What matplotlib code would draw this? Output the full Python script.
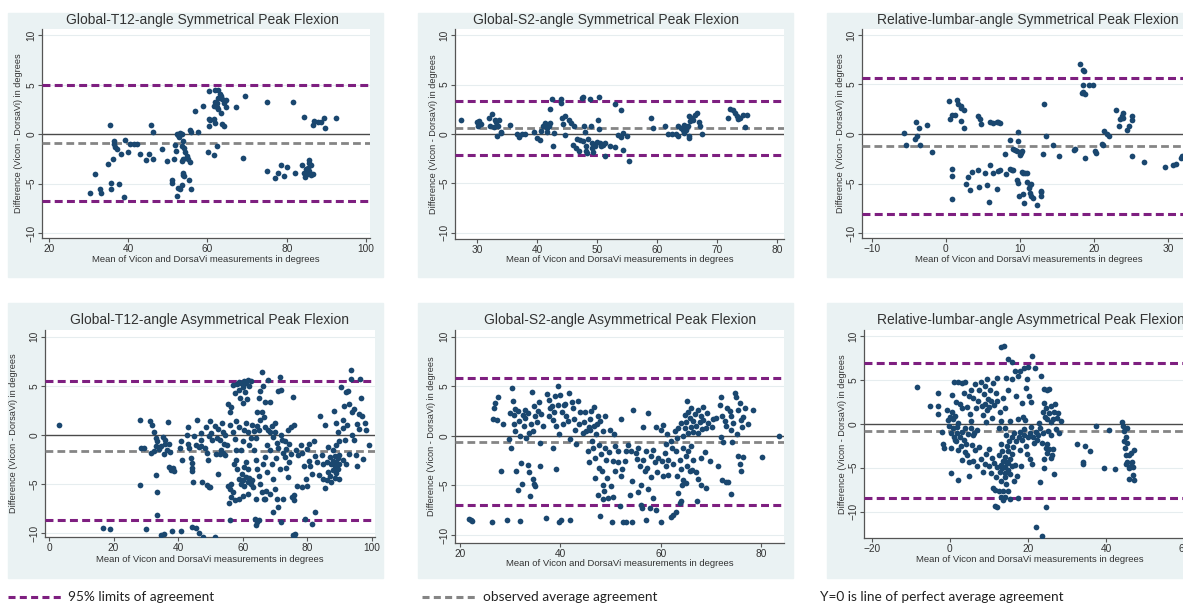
import numpy as np
import matplotlib
matplotlib.use("Agg")
import matplotlib.pyplot as plt
from matplotlib.patches import Rectangle
from matplotlib.lines import Line2D

plt.rcParams['font.family'] = ['Liberation Sans', 'DejaVu Sans']

W, H = 1183, 603

titles = ["Global-T12-angle Symmetrical Peak Flexion",
          "Global-S2-angle Symmetrical Peak Flexion",
          "Relative-lumbar-angle Symmetrical Peak Flexion",
          "Global-T12-angle Asymmetrical Peak Flexion",
          "Global-S2-angle Asymmetrical Peak Flexion",
          "Relative-lumbar-angle Asymmetrical Peak Flexion"]

# (mean, difference) pairs
t12_sym = [(30.3,-5.95),(31.7,-4.0),(33.0,-5.55),(33.1,-5.9),(34.9,-3.0),(35.5,0.9),(35.8,-4.9),(35.8,-5.5),
           (36.2,-2.5),(36.4,-0.65),(36.4,-1.0),(36.8,-1.3),(37.2,-1.5),(37.6,-5.0),(38.3,-2.0),(38.9,-6.35),
           (39.3,-0.55),(39.9,-1.85),(40.6,-1.0),(41.4,-1.0),(42.2,-1.0),(43.1,-2.0),(44.5,-2.6),(45.4,-2.0),
           (45.9,0.95),(46.3,0.25),(46.3,-2.5),(48.5,-1.5),(49.8,-2.7),(51.1,-4.6),(51.1,-4.95),(51.5,-2.5),
           (51.9,-1.05),(52.1,-1.7),(52.3,0.0),(52.7,-0.1),(53.1,0.1),(53.5,0.05),(52.8,-0.25),(52.3,-6.3),
           (52.7,-5.45),(53.5,-5.1),(53.1,-5.5),(53.5,-1.2),(53.9,-0.7),(54.2,-1.4),(53.5,-2.75),(53.9,-2.5),
           (53.8,-4.1),(53.9,-3.9),(54.2,-4.2),(54.4,-1.85),(54.8,-2.25),(55.0,-2.5),(55.3,-4.6),(55.5,-2.85),
           (55.7,0.45),(55.9,0.2),(55.9,-5.55),(56.9,2.3),(57.6,0.2),(58.8,2.9),(60.1,-1.8),(60.3,0.8),
           (60.5,1.5),(60.7,1.4),(60.4,4.4),(61.6,-2.15),(61.6,2.9),(61.8,3.3),(61.6,1.55),(62.0,1.1),
           (61.8,4.45),(62.8,4.45),(62.3,3.2),(62.4,2.8),(62.6,2.5),(62.6,3.7),(62.3,-1.15),(63.1,4.1),
           (63.5,3.9),(63.1,3.8),(63.8,3.6),(63.5,2.15),(63.8,1.05),(64.1,0.85),(64.1,3.2),(64.6,2.7),
           (64.8,3.5),(67.2,2.8),(68.9,-2.4),(69.4,3.9),(75.0,3.25),(75.0,-3.75),(77.1,-4.4),(77.9,-3.95),
           (78.5,-3.1),(79.2,-4.2),(80.0,-3.3),(81.7,3.25),(82.1,-3.9),(83.9,-3.15),(84.3,1.75),(84.3,-3.9),
           (84.6,-4.3),(84.9,-3.5),(85.0,-4.0),(85.5,-3.7),(85.5,-2.6),(85.7,-2.9),(86.0,-4.0),(86.2,-3.1),
           (86.2,-4.1),(86.6,-4.0),(85.4,-3.4),(86.6,0.9),(87.0,1.35),(87.9,1.2),(88.7,1.2),(89.3,1.6),
           (89.6,0.6),(92.4,1.65)]

s2_sym = [(27.3,1.45),(29.9,1.2),(30.2,0.85),(30.7,1.05),(30.3,1.3),(32.0,1.6),(32.5,2.0),(32.9,1.45),
          (33.2,1.2),(32.1,0.8),(32.8,0.7),(33.5,0.85),(33.7,1.45),(34.0,0.25),(33.3,-0.2),(33.9,0.1),
          (35.4,0.95),(36.6,-0.05),(36.9,-0.3),(37.4,-0.05),(38.0,0.0),(39.4,0.2),(39.9,-0.4),(40.4,-0.6),
          (40.7,0.35),(41.0,0.8),(41.3,1.1),(41.7,0.6),(42.0,0.85),(41.6,0.25),(42.2,1.1),(42.1,2.55),
          (42.4,3.5),(42.7,-1.25),(42.8,0.15),(43.9,3.55),(44.0,3.15),(44.2,1.6),(44.3,1.05),(44.6,1.85),
          (44.7,-0.15),(45.3,1.45),(45.6,1.1),(45.9,-1.1),(46.2,0.8),(46.4,-1.4),(46.7,-0.55),(46.9,-1.75),
          (47.1,-0.6),(47.4,3.65),(47.6,3.8),(47.8,0.8),(47.7,-0.75),(47.9,0.25),(48.1,-1.25),(48.2,-1.75),
          (48.3,-1.9),(48.5,-0.55),(48.8,3.5),(48.9,0.8),(49.1,-0.9),(49.2,-1.4),(49.3,-1.85),(49.6,-1.25),
          (49.9,-0.85),(50.2,1.45),(50.3,0.5),(50.3,3.8),(50.4,-0.9),(50.7,-1.25),(51.0,-1.1),(51.3,-0.9),
          (51.3,-2.2),(52.1,-1.25),(52.9,-1.3),(53.0,3.0),(54.0,2.45),(53.5,-0.15),(53.9,-0.3),(54.3,0.1),
          (54.2,-1.6),(54.9,-0.25),(55.2,-2.7),(58.9,1.6),(59.2,0.6),(61.3,0.8),(61.8,0.0),(62.4,-0.05),
          (63.1,-0.05),(63.5,-0.25),(63.5,0.85),(63.9,0.6),(64.2,0.45),(64.5,0.95),(64.4,0.1),(64.8,0.45),
          (65.1,0.8),(65.2,-0.25),(65.4,1.3),(65.2,-0.4),(65.3,1.85),(65.7,1.6),(66.0,1.45),(66.3,1.95),
          (66.6,2.1),(66.9,1.2),(67.1,0.85),(67.4,-0.05),(71.7,1.6),(72.1,2.55),(72.6,2.4),(72.9,2.1),
          (73.2,1.85),(73.5,1.5),(73.8,1.6),(74.3,1.95),(74.9,1.95),(74.6,0.7)]

lumbar_sym = [(-5.6,0.1),(-5.4,-1.15),(-4.0,1.2),(-4.2,-0.5),(-3.85,-0.25),(-3.6,0.6),(-3.5,-1.1),(-2.6,0.95),
              (-1.9,-1.85),(0.4,3.3),(0.55,1.5),(0.9,1.9),(1.2,1.95),(0.8,-6.55),(0.9,-3.55),(0.9,-4.2),
              (1.5,3.45),(1.6,3.05),(2.0,2.85),(2.1,2.6),(2.4,2.45),(2.0,1.3),(2.4,0.6),(2.7,-5.05),
              (3.0,-4.35),(3.3,-5.7),(3.5,-3.85),(4.4,1.8),(4.6,1.5),(4.7,1.05),(4.4,-3.65),(4.5,-5.35),
              (5.3,-3.95),(5.5,-5.1),(5.8,-6.9),(6.0,1.25),(6.3,1.1),(6.9,1.2),(7.1,1.2),(7.3,1.1),
              (6.0,-3.15),(6.3,-3.95),(6.9,-5.55),(7.1,-3.75),(7.3,-3.6),(8.1,-4.05),(8.6,-3.5),(8.9,-3.6),
              (9.1,-3.6),(8.0,-2.0),(8.65,-0.65),(9.0,-1.5),(9.3,-1.65),(9.55,-1.75),(9.8,-0.75),(9.8,0.2),
              (9.55,-4.6),(9.8,-4.9),(9.9,-6.3),(10.0,-2.1),(10.2,-1.9),(10.3,-1.75),(10.3,-3.85),(10.4,-3.95),
              (10.7,-3.9),(10.9,-3.95),(10.4,-6.05),(10.6,-7.0),(11.0,-4.8),(11.2,-5.5),(11.3,-5.1),(11.4,-6.0),
              (11.5,-5.0),(11.5,-6.3),(11.7,-6.5),(12.25,-7.15),(12.8,-5.8),(12.8,-6.3),(12.9,-5.9),(13.2,3.05),
              (13.15,-2.0),(13.5,-0.25),(14.5,-1.15),(15.3,-2.25),(17.3,-1.6),(17.4,-1.5),(18.1,7.05),(18.5,6.5),
              (18.7,6.35),(18.3,4.15),(18.5,4.2),(18.45,4.9),(18.8,4.05),(18.8,-2.4),(19.3,4.9),(19.8,4.9),
              (20.1,-1.7),(20.3,-1.9),(21.0,-1.0),(21.15,-1.1),(21.3,0.35),(21.7,0.05),(22.0,-0.25),(23.0,2.45),
              (23.3,0.85),(23.5,1.5),(23.7,1.8),(23.9,1.6),(23.9,2.1),(24.4,0.45),(24.7,0.85),(25.1,1.85),
              (25.1,1.4),(25.1,-2.25),(26.7,-2.85),(29.6,-3.35),(30.7,-3.1),(31.0,-3.0),(31.7,-2.4),(31.9,-2.25)]

t12_asym = [(3.0,1.05),(16.8,-9.5),(18.9,-9.6),(28.2,1.5),(28.2,-5.1),(28.5,-1.3),(29.5,-1.3),(29.9,-9.6),
            (31.2,1.4),(32.0,1.0),(32.5,0.3),(33.0,-0.3),(33.5,-0.6),(33.2,-1.1),(31.6,-1.8),(32.5,-1.6),
            (33.3,-4.1),(33.6,-5.8),(33.5,-8.1),(34.2,-1.4),(34.8,-1.1),(35.2,-0.2),(35.5,-1.9),(34.8,-10.2),
            (35.5,-10.1),(35.8,-0.9),(36.8,1.3),(37.2,-0.9),(37.5,-1.7),(37.3,-3.3),(37.8,-3.6),(38.3,-3.4),
            (38.6,-3.7),(38.2,-9.8),(36.5,-1.5),(36.0,-0.5),(40.5,-1.3),(41.0,-0.6),(41.2,-2.5),(41.0,-9.8),
            (42.8,0.0),(43.0,0.8),(43.2,-0.9),(43.5,-1.3),(44.0,-2.3),(44.2,-2.9),(44.2,-3.4),(44.3,-3.7),
            (44.7,-4.8),(44.2,-9.4),(45.5,-9.5),(46.5,-10.0),(47.6,-10.4),(45.0,-0.1),(45.5,-1.0),(46.0,1.5),
            (46.5,-1.2),(47.0,-0.5),(47.0,0.2),(47.2,-1.1),(47.5,-4.8),(48.2,-1.3),(48.5,0.8),(48.8,-1.8),
            (49.2,-2.5),(49.0,-5.1),(49.5,-5.3),(50.0,-5.3),(49.8,1.4),(50.3,0.2),(50.5,-0.5),(49.5,-0.1),
            (51.5,-10.4),(51.3,0.9),(51.8,-1.9),(52.0,-0.3),(52.5,-4.0),(52.5,0.6),(53.0,-0.5),(53.3,-1.5),
            (53.5,1.2),(53.8,-1.8),(54.0,0.3),(54.2,-0.9),(54.5,-2.0),(55.0,-1.0),(53.0,-1.9),(54.5,0.0),
            (55.5,-5.2),(55.8,-6.9),(56.0,-5.5),(56.3,-5.0),(56.5,-6.3),(57.0,-5.8),(56.1,-8.7),(57.5,-6.6),
            (55.5,3.2),(56.0,2.3),(56.5,2.8),(56.2,1.0),(57.0,0.3),(57.5,-0.4),(57.8,-1.5),(58.0,-2.5),
            (57.2,-3.0),(58.3,-3.5),(58.0,1.4),(57.5,4.3),(58.2,5.2),(58.8,5.4),(57.0,5.1),(59.0,4.6),
            (59.5,5.3),(60.0,4.9),(60.5,5.5),(61.0,5.3),(61.5,5.6),(62.0,5.0),(62.5,5.5),(59.3,3.8),
            (60.2,3.3),(60.8,4.4),(61.3,3.7),(59.0,-4.5),(59.5,-5.0),(60.0,-4.6),(60.5,-5.2),(61.0,-4.3),
            (61.5,-4.8),(62.0,-4.4),(62.5,-5.0),(63.0,-4.6),(63.3,-5.3),(59.7,-4.0),(60.3,-3.3),(61.0,-2.8),
            (61.8,-3.5),(59.5,-1.5),(60.0,-0.6),(60.5,0.5),(61.0,1.2),(61.5,0.3),(62.0,-1.0),(62.5,-0.3),
            (59.0,0.8),(58.8,-6.5),(60.0,-6.2),(61.5,-6.0),(63.0,1.0),(63.5,0.4),(64.0,-0.3),(64.5,0.9),
            (65.0,0.5),(65.5,1.5),(66.0,2.3),(66.5,1.8),(64.5,2.3),(65.0,3.8),(65.5,4.5),(66.0,6.4),
            (66.3,5.0),(67.0,3.4),(63.5,-1.5),(64.0,-2.5),(64.5,-3.5),(65.0,-4.2),(65.5,-5.0),(66.0,-5.8),
            (66.5,-6.5),(67.0,-6.5),(67.3,-5.7),(64.2,-6.5),(63.8,-8.5),(64.5,-8.9),(65.0,-8.7),(64.0,-9.2),
            (66.2,-3.0),(67.0,-2.2),(67.5,-1.0),(67.8,0.5),(66.8,0.8),(67.5,-3.8),(68.0,5.6),(68.5,3.4),
            (69.0,0.9),(69.5,-0.2),(70.0,0.3),(70.5,-0.8),(71.0,4.5),(71.5,5.9),(71.8,4.6),(72.0,0.0),
            (68.5,-1.5),(69.0,-3.0),(69.5,-4.5),(70.0,-5.5),(70.5,-6.5),(71.0,-7.3),(69.5,-7.8),(68.5,-6.0),
            (72.0,-8.9),(71.5,-3.5),(72.5,-1.8),(72.5,-6.5),(70.3,-2.3),(71.0,-1.3),(68.5,0.3),(70.0,1.2),
            (72.3,-0.5),(73.0,-2.2),(73.5,-1.4),(74.0,0.5),(74.5,-0.9),(75.0,0.8),(75.5,3.9),(76.0,1.0),
            (73.5,-3.4),(74.0,-4.3),(74.5,-2.7),(75.0,-1.9),(75.3,-6.3),(75.8,-6.6),(76.0,-6.1),(75.5,-10.2),
            (76.0,-10.4),(76.3,-10.1),(73.0,-0.6),(76.5,-1.5),(77.0,-2.0),(76.8,-5.2),(78.0,-1.0),(78.5,-1.8),
            (79.0,-3.2),(79.5,-4.5),(80.0,-5.2),(78.5,-5.3),(79.2,-8.5),(80.0,-1.4),(80.5,-2.6),(81.0,-3.2),
            (82.5,-7.8),(81.5,-9.1),(82.0,-0.6),(82.5,-2.1),(83.0,-2.8),(83.5,-4.1),(81.5,-4.0),(80.5,-0.9),
            (84.0,1.9),(84.5,-2.0),(85.0,-3.0),(85.0,-4.5),(85.5,-5.4),(86.0,-4.6),(86.5,-1.2),(86.5,-3.8),
            (87.0,-2.2),(87.0,-4.2),(87.5,-3.0),(87.5,-4.8),(88.0,-1.5),(88.0,-2.6),(88.0,-3.6),(88.5,-2.1),
            (88.5,-3.2),(88.5,-4.4),(89.0,-1.0),(89.0,-2.8),(89.0,-3.9),(89.5,-2.3),(89.5,-3.5),(90.0,-2.0),
            (90.0,-3.0),(90.0,-4.5),(88.2,2.4),(89.0,1.2),(89.5,0.3),(90.0,-0.6),(85.5,1.0),(86.0,-2.8),
            (90.5,4.9),(91.0,1.5),(91.2,0.7),(91.5,2.9),(91.8,-0.5),(92.0,4.4),(92.5,4.5),(93.0,3.2),
            (93.5,6.6),(93.7,5.7),(94.0,2.3),(94.0,0.0),(94.5,-0.5),(94.5,2.6),(95.0,-2.0),(95.3,-3.2),
            (95.5,1.1),(96.0,0.6),(96.5,5.7),(96.8,3.8),(97.0,1.9),(97.3,-2.4),(97.8,1.2),(98.2,0.5),
            (99.0,-1.0),(91.0,-2.5),(92.0,-3.0),(93.0,-1.9),(96.0,2.1),(92.3,1.0)]

s2_asym = [(21.8,-8.4),(22.3,-8.6),(22.2,-8.5),(26.3,-8.7),(26.5,1.7),(26.8,2.8),(27.0,3.3),(27.3,1.6),
           (27.6,3.9),(28.2,-3.5),(28.5,1.2),(29.4,-8.5),(29.8,-0.3),(30.0,2.3),(30.2,-1.2),(30.3,4.8),
           (30.5,3.5),(30.7,2.1),(30.8,1.2),(31.0,2.7),(31.0,0.5),(31.2,-3.5),(31.5,-5.5),(31.5,2.5),
           (31.8,1.5),(32.0,0.0),(32.0,-8.6),(32.2,-2.7),(32.3,-4.9),(32.5,2.1),(32.7,1.0),(33.0,2.6),
           (33.2,-0.2),(33.0,1.8),(33.5,2.3),(33.6,-2.9),(33.8,-3.6),(34.0,-6.1),(34.2,1.2),(34.3,4.4),
           (34.5,-4.3),(34.8,-4.9),(35.0,-5.1),(34.6,0.5),(35.0,2.0),(35.3,1.4),(35.5,2.5),(35.8,3.4),
           (36.0,-0.7),(36.0,-3.0),(36.5,1.0),(36.2,2.2),(34.8,3.0),(33.8,0.3),(37.2,-8.3),(37.3,4.2),
           (37.7,3.6),(38.0,2.8),(38.3,3.0),(38.5,1.6),(38.5,-1.2),(39.0,4.0),(39.2,1.0),(39.2,-3.3),
           (39.5,5.0),(39.6,3.1),(39.8,0.2),(39.8,-8.7),(40.2,-8.5),(40.0,4.1),(40.3,2.4),(40.5,1.2),
           (40.8,3.1),(38.8,2.4),(37.8,2.0),(41.0,3.2),(41.2,2.0),(41.5,1.5),(41.8,4.3),(42.0,-0.3),
           (42.0,-8.5),(42.3,3.4),(42.5,2.8),(42.8,1.7),(43.0,0.6),(43.2,-0.8),(43.5,3.5),(43.8,1.2),
           (44.0,2.4),(44.5,0.3),(44.8,1.4),(45.0,2.4),(45.2,0.5),(45.5,-1.5),(45.8,-2.6),(46.0,1.7),
           (46.2,2.5),(46.3,-0.5),(46.5,-1.2),(46.7,2.9),(46.8,1.0),(47.0,-2.2),(47.0,-4.2),(47.2,0.2),
           (47.5,-6.0),(47.5,2.0),(47.8,-0.9),(47.8,-3.2),(48.0,-8.1),(48.0,1.5),(48.2,-1.8),(48.3,-3.5),
           (48.5,-5.0),(48.5,-6.4),(48.6,0.5),(48.8,-5.6),(49.0,2.0),(49.0,-1.2),(49.2,-2.4),(49.3,-4.2),
           (46.0,0.6),(47.3,1.2),(45.8,0.9),(49.5,-6.3),(49.8,-1.6),(50.0,0.6),(50.2,-5.1),(50.3,-8.7),
           (50.5,-2.5),(50.5,-6.2),(50.8,0.2),(51.0,-3.5),(51.0,-1.0),(51.5,-1.5),(51.8,-7.1),(52.0,-4.0),
           (52.3,-3.3),(52.5,-8.7),(52.8,-2.5),(53.0,-1.5),(53.0,-8.7),(53.5,-0.9),(53.8,-6.0),(54.0,-1.5),
           (54.2,-4.6),(54.3,-8.7),(54.5,2.6),(52.0,1.7),(51.5,-2.6),(55.0,-1.7),(55.2,-2.3),(55.5,-1.2),
           (55.8,-3.0),(56.0,-5.0),(56.0,-7.0),(56.2,-7.3),(56.5,-2.4),(56.5,0.9),(56.8,-3.5),(57.0,-1.5),
           (57.0,-8.5),(57.2,-3.2),(57.5,2.3),(57.8,-7.3),(58.0,-4.1),(58.0,-2.0),(58.5,-1.4),(58.8,-2.6),
           (58.5,-6.3),(59.0,0.9),(59.0,-7.5),(59.2,-3.6),(59.5,-2.2),(55.5,-5.7),(57.5,-5.4),(60.0,0.6),
           (60.0,-8.7),(60.2,-2.5),(60.5,1.1),(60.5,-4.0),(60.8,-1.7),(61.0,-3.0),(61.0,-0.8),(61.3,0.2),
           (61.5,-2.4),(61.5,-3.9),(62.0,-0.5),(62.0,-8.2),(62.3,-1.2),(62.5,-2.8),(62.5,-8.0),(62.8,0.5),
           (63.0,-1.5),(63.0,-7.7),(63.3,-0.2),(63.3,-4.0),(63.5,-5.8),(63.5,0.8),(63.8,-2.4),(63.8,-6.8),
           (64.0,1.3),(64.0,-3.3),(64.0,-6.6),(64.2,-5.0),(64.5,0.0),(64.5,-1.2),(64.5,-4.5),(64.8,0.8),
           (64.8,2.1),(65.0,1.4),(65.0,-2.0),(65.0,-4.8),(65.2,3.5),(65.3,-3.0),(65.5,2.4),(65.5,0.3),
           (65.5,-1.5),(65.8,1.8),(65.8,-3.5),(66.0,2.8),(66.0,0.9),(66.0,-1.0),(66.2,-3.4),(66.5,1.5),
           (66.5,0.4),(66.5,-2.4),(66.8,2.2),(67.0,1.0),(67.0,-3.6),(67.2,-6.6),(67.5,2.6),(67.5,0.3),
           (67.5,-4.3),(67.8,1.4),(68.0,2.0),(68.0,-5.0),(68.0,-2.2),(68.3,0.7),(68.5,1.6),(68.5,2.9),
           (68.8,-1.6),(69.0,0.8),(69.0,-5.3),(69.3,2.3),(69.5,1.3),(69.8,-2.5),(70.2,0.9),(70.5,1.7),
           (71.0,1.8),(71.5,-3.0),(71.8,3.1),(72.0,3.9),(72.0,-0.1),(72.2,2.0),(72.3,-4.5),(72.5,-0.6),
           (72.8,1.5),(73.0,-4.7),(73.2,2.8),(73.5,-4.7),(73.8,2.5),(74.0,0.6),(74.0,-5.9),(74.2,-0.6),
           (74.5,1.3),(74.8,4.3),(75.0,3.9),(75.2,0.2),(75.5,2.6),(75.5,-2.0),(75.8,3.3),(75.8,-2.8),
           (76.0,1.6),(76.0,-3.5),(76.2,0.9),(76.5,1.9),(76.5,-2.1),(76.8,2.8),(77.5,1.2),(78.5,2.6),
           (80.3,-2.1),(83.6,0.0),(74.0,2.0),(73.0,1.0)]

lumbar_asym = [(-8.4,4.2),(-5.2,2.0),(-3.0,3.5),(-3.0,2.0),(-3.0,1.1),(-2.0,-0.9),(-1.8,-2.3),(-1.6,-2.7),
               (-0.8,1.6),(-0.5,0.4),(-0.3,-0.2),(0.0,0.8),(0.2,-1.0),(0.3,-5.6),(0.5,3.3),(0.6,1.4),
               (0.8,0.6),(0.8,-0.5),(1.0,4.8),(1.0,-1.5),(1.3,0.9),(1.5,2.5),(1.5,-2.0),(1.8,-0.4),
               (1.8,-1.0),(2.0,4.8),(2.0,-3.0),(2.2,0.1),(2.2,-6.4),(2.5,2.2),(2.5,-1.5),(2.8,-2.5),
               (3.0,4.7),(3.0,-0.9),(3.0,-4.1),(3.2,1.8),(0.4,-2.8),(1.2,-1.8),(3.5,-1.8),(3.6,3.5),
               (3.8,-3.2),(4.0,4.8),(4.0,-0.5),(4.2,-2.3),(4.3,1.9),(4.5,-3.6),(4.7,-1.2),(4.8,3.2),
               (5.0,-4.3),(5.0,-5.9),(5.3,0.3),(5.5,3.8),(5.5,-0.5),(5.6,-2.4),(5.8,-1.3),(6.0,-4.2),
               (6.0,2.9),(6.2,-1.0),(6.5,4.5),(6.5,-3.0),(6.8,1.8),(7.0,-4.8),(7.0,-0.7),(7.2,2.6),
               (7.5,-2.6),(7.5,3.8),(5.2,1.1),(8.0,4.8),(8.0,-4.0),(8.2,2.0),(8.5,-5.5),(8.5,1.0),
               (8.8,3.4),(9.0,4.3),(9.0,-4.6),(9.0,2.3),(9.3,-3.4),(9.5,1.6),(9.5,5.1),(9.8,2.8),
               (10.0,-4.8),(10.0,-2.9),(10.0,1.9),(10.2,3.9),(10.5,-5.6),(10.5,2.6),(10.8,0.7),(10.8,-3.9),
               (11.0,-7.3),(11.0,4.6),(11.2,-4.5),(11.3,2.1),(11.5,-7.5),(11.5,-9.3),(11.8,3.5),(11.8,-6.1),
               (12.0,-9.5),(12.0,-4.9),(12.0,2.6),(12.2,5.2),(12.5,-7.6),(12.5,-3.5),(12.5,-0.5),(12.8,1.4),
               (12.8,-5.5),(9.3,0.2),(13.0,-8.3),(13.0,-6.5),(13.0,-4.7),(13.0,8.7),(13.0,0.3),(13.2,-2.3),
               (13.4,-5.0),(13.5,-7.6),(13.5,-4.2),(13.5,2.9),(13.6,-8.7),(13.8,8.9),(14.0,-5.6),(14.0,-3.8),
               (14.0,-6.0),(14.0,-8.3),(14.0,1.8),(14.2,-4.9),(14.3,-4.4),(14.5,-6.8),(14.5,5.2),(14.5,-1.3),
               (14.6,-2.5),(14.8,-5.3),(14.8,-3.1),(15.0,7.4),(15.0,-4.5),(15.0,-7.7),(15.0,3.9),(15.2,-2.0),
               (15.3,-5.7),(15.5,-4.0),(15.5,-8.6),(15.5,0.3),(15.8,7.0),(15.8,-1.5),(16.0,-4.8),(16.0,-3.4),
               (16.0,5.1),(16.2,-2.6),(16.5,-6.5),(16.5,-1.0),(16.8,6.0),(16.8,-4.7),(13.3,-3.1),(14.2,-0.5),
               (17.0,-2.0),(17.0,3.2),(17.2,-5.9),(17.5,-8.4),(17.5,0.5),(17.5,5.5),(17.8,-1.5),(18.0,-3.0),
               (18.0,6.0),(18.0,-0.9),(18.5,-1.8),(18.5,2.4),(19.0,-1.3),(19.0,6.4),(19.0,-0.6),(19.2,0.4),
               (19.5,-2.5),(19.5,4.1),(19.8,5.1),(20.0,6.5),(20.0,-1.5),(20.2,3.2),(20.5,-4.0),(20.5,-1.0),
               (20.8,-0.4),(21.0,7.7),(21.0,-4.6),(21.2,-1.5),(21.5,-2.2),(18.3,-4.8),(19.8,-3.4),(18.8,0.8),
               (20.8,2.5),(21.8,6.3),(22.0,-11.8),(22.0,-0.9),(22.3,-1.8),(22.5,-1.3),(22.8,0.1),(23.0,-0.5),
               (23.2,-6.6),(23.3,5.4),(23.5,-12.8),(23.5,-2.2),(23.8,-1.0),(24.0,4.0),(24.0,2.4),(24.0,-4.0),
               (24.2,-5.0),(24.5,-9.5),(24.3,0.8),(24.6,1.8),(24.8,-3.3),(25.0,3.9),(25.0,0.6),(25.0,-2.3),
               (25.2,-0.8),(25.5,4.0),(25.5,1.2),(25.5,-2.9),(25.8,0.2),(26.0,2.0),(26.0,-1.3),(26.2,-3.6),
               (26.5,0.5),(26.5,-2.9),(26.7,1.4),(26.8,-5.7),(27.0,2.2),(27.2,-0.6),(27.5,0.7),(27.8,1.2),
               (28.0,-1.0),(28.5,0.3),(24.5,-2.7),(25.8,-3.9),(23.8,1.4),(32.5,-2.3),(34.0,-4.6),(34.2,-4.3),
               (34.5,-2.5),(36.0,-3.1),(37.5,-0.2),(39.5,-5.0),(40.8,-0.7),(42.3,-5.2),(44.2,0.2),(44.3,-0.3),
               (44.5,-0.8),(44.5,-1.9),(44.8,-2.7),(45.0,-1.5),(45.0,-3.5),(45.2,-4.6),(45.5,-4.3),(45.5,-2.2),
               (45.8,-5.0),(46.0,-3.6),(46.0,-6.3),(46.3,-4.8),(46.5,-3.3),(46.8,-5.8),(47.0,-4.9),(47.2,-3.0),
               (47.3,-6.4),(45.3,-0.5),(46.6,-4.3)]

upper_loa = [5.0, 3.35, 5.7, 5.45, 5.8, 6.9]
mean_diff = [-0.9, 0.6, -1.2, -1.6, -0.6, -0.8]
lower_loa = [-6.8, -2.15, -8.05, -8.6, -7.0, -8.5]

x_ticks = [[20, 40, 60, 80, 100], [30, 40, 50, 60, 70, 80], [-10, 0, 10, 20, 30],
           [0, 20, 40, 60, 80, 100], [20, 40, 60, 80], [-20, 0, 20, 40, 60]]
y_ticks = [-10, -5, 0, 5, 10]

datasets = [t12_sym, s2_sym, lumbar_sym, t12_asym, s2_asym, lumbar_asym]

# layout in pixels: axes (l, t, r, b), grey panel, limits, title centre, label positions
layout = [
    dict(ax=(42, 29, 370, 238), bg=(8, 13, 383, 277), xlim=(18.3, 101.0), ylim=(-10.5, 10.64),
         title=(202, 20), ylab_x=19, xlab_y=260),
    dict(ax=(455, 29, 784, 239), bg=(418, 13, 793, 277), xlim=(26.3, 81.1), ylim=(-10.64, 10.64),
         title=(606, 20), ylab_x=434, xlab_y=260),
    dict(ax=(862, 29, 1195, 238), bg=(827, 13, 1195, 277), xlim=(-11.3, 33.6), ylim=(-10.5, 10.6),
         title=(1028, 20), ylab_x=841, xlab_y=260),
    dict(ax=(45, 330, 375, 537), bg=(8, 303, 383, 578), xlim=(-1.24, 101.0), ylim=(-10.38, 10.68),
         title=(210, 320), ylab_x=14, xlab_y=560),
    dict(ax=(455, 330, 784, 543), bg=(418, 303, 793, 578), xlim=(19.0, 84.6), ylim=(-10.8, 10.67),
         title=(620, 320), ylab_x=432, xlab_y=563),
    dict(ax=(864, 330, 1195, 538), bg=(827, 303, 1195, 578), xlim=(-22.0, 62.8), ylim=(-13.0, 10.68),
         title=(1031, 320), ylab_x=842, xlab_y=560),
]

bg_color = '#eaf2f3'
dot_color = '#1a476f'
loa_color = '#7e1f80'
avg_color = '#858585'


def fx(px):
    return px / W


def fy(py):
    return 1 - py / H


fig = plt.figure(figsize=(W / 100, H / 100), dpi=100)
fig.patch.set_facecolor('white')

for i, lay in enumerate(layout):
    l, t, r, b = lay['bg']
    fig.patches.append(Rectangle((fx(l), fy(b)), (r - l) / W, (b - t) / H,
                                 transform=fig.transFigure, color=bg_color, zorder=-5))

    l, t, r, b = lay['ax']
    ax = fig.add_axes([fx(l), fy(b), (r - l) / W, (b - t) / H])
    ax.set_zorder(2)
    ax.set_facecolor('white')
    pts = np.array(datasets[i])
    ax.scatter(pts[:, 0], pts[:, 1], s=17, color=dot_color, linewidths=0, zorder=4)

    for yv in [-10, -5, 5, 10]:
        ax.axhline(yv, color='#e6edef', lw=0.8, zorder=1)
    ax.axhline(0, color='#4a4a4a', lw=1.0, zorder=2)
    ax.axhline(mean_diff[i], color=avg_color, lw=2.0, linestyle=(0, (2.8, 1.5)), zorder=3)
    ax.axhline(upper_loa[i], color=loa_color, lw=2.2, linestyle=(0, (2.6, 1.4)), zorder=3)
    ax.axhline(lower_loa[i], color=loa_color, lw=2.2, linestyle=(0, (2.6, 1.4)), zorder=3)

    ax.set_xlim(*lay['xlim'])
    ax.set_ylim(*lay['ylim'])
    ax.set_xticks(x_ticks[i])
    ax.set_yticks(y_ticks)
    for side in ['top', 'right']:
        ax.spines[side].set_visible(False)
    for side in ['left', 'bottom']:
        ax.spines[side].set_color('#555555')
        ax.spines[side].set_linewidth(0.9)
    ax.tick_params(direction='out', length=3, width=0.8, color='#555555',
                   labelsize=7.3, pad=1.5, labelcolor='#333333')
    ax.tick_params(axis='y', labelrotation=90, pad=1)
    for lab in ax.get_yticklabels():
        lab.set_va('center')

    tx, ty = lay['title']
    fig.text(fx(tx), fy(ty), titles[i], ha='center', va='center', fontsize=10, color='#333333')
    fig.text(fx((l + r) / 2), fy(lay['xlab_y']), "Mean of Vicon and DorsaVi measurements in degrees",
             ha='center', va='center', fontsize=6.8, color='#333333')
    fig.text(fx(lay['ylab_x']), fy((t + b) / 2), "Difference (Vicon - DorsaVi) in degrees",
             ha='center', va='center', rotation=90, fontsize=6.6, color='#333333')

# key along the bottom
fig.add_artist(Line2D([fx(8), fx(62)], [fy(597), fy(597)], transform=fig.transFigure,
                      color=loa_color, lw=2.2, linestyle=(0, (2.3, 1.4))))
fig.text(fx(68), fy(597), "95% limits of agreement", ha='left', va='center',
         fontsize=9.8, family=['Lato', 'DejaVu Sans'], color='#222222')
fig.add_artist(Line2D([fx(422), fx(478)], [fy(597), fy(597)], transform=fig.transFigure,
                      color=avg_color, lw=2.2, linestyle=(0, (2.3, 1.4))))
fig.text(fx(483), fy(597), "observed average agreement", ha='left', va='center',
         fontsize=9.8, family=['Lato', 'DejaVu Sans'], color='#222222')
fig.text(fx(820), fy(597), "Y=0 is line of perfect average agreement", ha='left', va='center',
         fontsize=9.8, family=['Lato', 'DejaVu Sans'], color='#222222')

fig.savefig("out.png", dpi=100)
